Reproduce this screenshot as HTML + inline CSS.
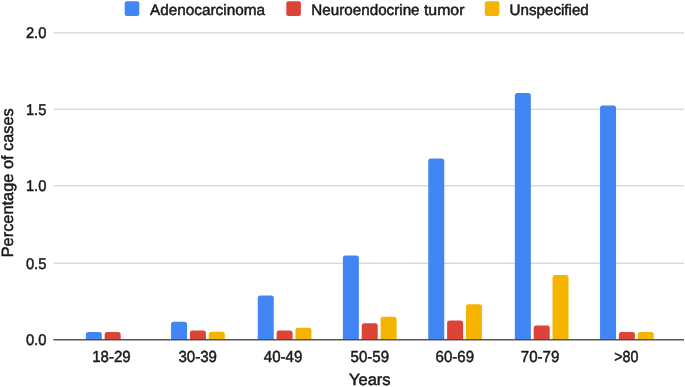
<!DOCTYPE html>
<html lang="en"><head><meta charset="utf-8"><title>Percentage of cases by age</title>
<style>html,body{margin:0;padding:0;background:#fff;overflow:hidden}svg{display:block}</style></head>
<body>
<svg width="685" height="387" viewBox="0 0 685 387" font-family="'Liberation Sans', sans-serif">
<rect width="685" height="387" fill="#fff"/>
<rect x="53.6" y="32.30" width="630.4" height="1.2" fill="#d2d2d2"/>
<rect x="53.6" y="108.66" width="630.4" height="1.2" fill="#d2d2d2"/>
<rect x="53.6" y="185.20" width="630.4" height="1.2" fill="#d2d2d2"/>
<rect x="53.6" y="262.66" width="630.4" height="1.2" fill="#d2d2d2"/>
<path d="M85.80 339.75 V334.40 Q85.80 331.90 88.30 331.90 H99.30 Q101.80 331.90 101.80 334.40 V339.75 Z" fill="#4285f4"/>
<path d="M104.65 339.75 V334.40 Q104.65 331.90 107.15 331.90 H118.15 Q120.65 331.90 120.65 334.40 V339.75 Z" fill="#db4437"/>
<path d="M171.05 339.75 V324.20 Q171.05 321.70 173.55 321.70 H184.55 Q187.05 321.70 187.05 324.20 V339.75 Z" fill="#4285f4"/>
<path d="M189.90 339.75 V333.00 Q189.90 330.50 192.40 330.50 H203.40 Q205.90 330.50 205.90 333.00 V339.75 Z" fill="#db4437"/>
<path d="M208.75 339.75 V334.30 Q208.75 331.80 211.25 331.80 H222.25 Q224.75 331.80 224.75 334.30 V339.75 Z" fill="#f4b400"/>
<path d="M257.75 339.75 V298.10 Q257.75 295.60 260.25 295.60 H271.25 Q273.75 295.60 273.75 298.10 V339.75 Z" fill="#4285f4"/>
<path d="M276.60 339.75 V333.00 Q276.60 330.50 279.10 330.50 H290.10 Q292.60 330.50 292.60 333.00 V339.75 Z" fill="#db4437"/>
<path d="M295.45 339.75 V330.20 Q295.45 327.70 297.95 327.70 H308.95 Q311.45 327.70 311.45 330.20 V339.75 Z" fill="#f4b400"/>
<path d="M342.90 339.75 V258.00 Q342.90 255.50 345.40 255.50 H356.40 Q358.90 255.50 358.90 258.00 V339.75 Z" fill="#4285f4"/>
<path d="M361.75 339.75 V325.80 Q361.75 323.30 364.25 323.30 H375.25 Q377.75 323.30 377.75 325.80 V339.75 Z" fill="#db4437"/>
<path d="M380.60 339.75 V319.20 Q380.60 316.70 383.10 316.70 H394.10 Q396.60 316.70 396.60 319.20 V339.75 Z" fill="#f4b400"/>
<path d="M428.25 339.75 V161.10 Q428.25 158.60 430.75 158.60 H441.75 Q444.25 158.60 444.25 161.10 V339.75 Z" fill="#4285f4"/>
<path d="M447.10 339.75 V323.10 Q447.10 320.60 449.60 320.60 H460.60 Q463.10 320.60 463.10 323.10 V339.75 Z" fill="#db4437"/>
<path d="M465.95 339.75 V306.80 Q465.95 304.30 468.45 304.30 H479.45 Q481.95 304.30 481.95 306.80 V339.75 Z" fill="#f4b400"/>
<path d="M514.85 339.75 V95.40 Q514.85 92.90 517.35 92.90 H528.35 Q530.85 92.90 530.85 95.40 V339.75 Z" fill="#4285f4"/>
<path d="M533.70 339.75 V328.10 Q533.70 325.60 536.20 325.60 H547.20 Q549.70 325.60 549.70 328.10 V339.75 Z" fill="#db4437"/>
<path d="M552.55 339.75 V277.60 Q552.55 275.10 555.05 275.10 H566.05 Q568.55 275.10 568.55 277.60 V339.75 Z" fill="#f4b400"/>
<path d="M600.05 339.75 V107.90 Q600.05 105.40 602.55 105.40 H613.55 Q616.05 105.40 616.05 107.90 V339.75 Z" fill="#4285f4"/>
<path d="M618.90 339.75 V334.40 Q618.90 331.90 621.40 331.90 H632.40 Q634.90 331.90 634.90 334.40 V339.75 Z" fill="#db4437"/>
<path d="M637.75 339.75 V334.40 Q637.75 331.90 640.25 331.90 H651.25 Q653.75 331.90 653.75 334.40 V339.75 Z" fill="#f4b400"/>
<rect x="53.4" y="339.10" width="630.6" height="1.35" fill="#444"/>
<rect x="124.7" y="1.3" width="14.6" height="14.6" rx="2" fill="#4285f4"/>
<rect x="286.3" y="1.3" width="14.6" height="14.6" rx="2" fill="#db4437"/>
<rect x="484.8" y="1.3" width="14.6" height="14.6" rx="2" fill="#f4b400"/>
<g fill="#1a1a1a" stroke="#1a1a1a" stroke-width="0.5" stroke-linejoin="round" text-rendering="geometricPrecision">
<text transform="translate(46.4 38.0) scale(0.95 1)" font-size="15.5" text-anchor="end">2.0</text>
<text transform="translate(46.4 115.0) scale(0.95 1)" font-size="15.5" text-anchor="end">1.5</text>
<text transform="translate(46.4 191.0) scale(0.95 1)" font-size="15.5" text-anchor="end">1.0</text>
<text transform="translate(46.4 269.0) scale(0.95 1)" font-size="15.5" text-anchor="end">0.5</text>
<text transform="translate(46.4 345.0) scale(0.95 1)" font-size="15.5" text-anchor="end">0.0</text>
<text transform="translate(111.40 361.8) scale(0.94 1)" font-size="16" text-anchor="middle">18-29</text>
<text transform="translate(197.70 361.8) scale(0.94 1)" font-size="16" text-anchor="middle">30-39</text>
<text transform="translate(283.00 361.8) scale(0.94 1)" font-size="16" text-anchor="middle">40-49</text>
<text transform="translate(369.85 361.8) scale(0.94 1)" font-size="16" text-anchor="middle">50-59</text>
<text transform="translate(454.80 361.8) scale(0.94 1)" font-size="16" text-anchor="middle">60-69</text>
<text transform="translate(540.00 361.8) scale(0.94 1)" font-size="16" text-anchor="middle">70-79</text>
<text transform="translate(626.30 361.8) scale(0.895 1)" font-size="16" text-anchor="middle">&gt;80</text>
<text x="349.0" y="385.2" font-size="16.2" textLength="41.6" lengthAdjust="spacingAndGlyphs">Years</text>
<text transform="translate(13.1 257.3) rotate(-90)" font-size="16.3" textLength="149.1" lengthAdjust="spacingAndGlyphs">Percentage of cases</text>
<text x="150.0" y="14.6" font-size="15.2" textLength="115" lengthAdjust="spacingAndGlyphs">Adenocarcinoma</text>
<text y="14.6" font-size="15.2"><tspan x="311.3" textLength="108.3" lengthAdjust="spacingAndGlyphs">Neuroendocrine</tspan> <tspan x="423.9" textLength="40.6" lengthAdjust="spacingAndGlyphs">tumor</tspan></text>
<text x="509.6" y="14.6" font-size="15.2" textLength="79.2" lengthAdjust="spacingAndGlyphs">Unspecified</text>
</g>
</svg>
</body></html>
